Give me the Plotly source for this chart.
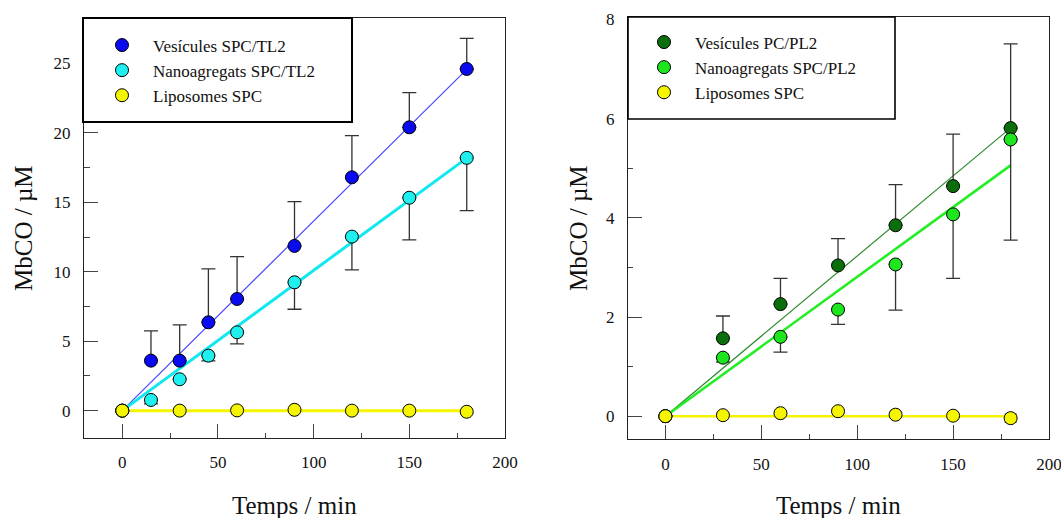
import plotly.graph_objects as go

# ---------------- data (left panel) ----------------
t_left = [0, 15, 30, 45, 60, 90, 120, 150, 180]
ves_tl2 = [0, 3.6, 3.6, 6.36, 8.04, 11.86, 16.8, 20.4, 24.6]
ves_tl2_err_up = [0, 2.14, 2.57, 3.84, 3.05, 3.19, 3.0, 2.5, 2.2]
nano_tl2 = [0, 0.77, 2.26, 3.96, 5.64, 9.24, 12.53, 15.33, 18.2]
nano_tl2_err_down = [0, 0.29, 0.0, 0.38, 0.84, 1.94, 2.4, 3.04, 3.8]
t_lipo = [0, 30, 60, 90, 120, 150, 180]
lipo_left = [0, 0.0, 0.02, 0.06, 0.0, 0.0, -0.08]
lipo_left_err = [0, 0.05, 0.1, 0.05, 0.1, 0.1, 0.12]
fit_t = [0, 180]
slope_ves_tl2 = 0.1365
slope_nano_tl2 = 0.101
slope_lipo = 0.0

# ---------------- data (right panel) ----------------
t_right = [0, 30, 60, 90, 120, 150, 180]
ves_pl2 = [0, 1.57, 2.26, 3.04, 3.85, 4.64, 5.81]
ves_pl2_err_up = [0, 0.45, 0.52, 0.54, 0.82, 1.05, 1.7]
nano_pl2 = [0, 1.18, 1.60, 2.15, 3.06, 4.07, 5.58]
nano_pl2_err_down = [0, 0.09, 0.31, 0.30, 0.92, 1.29, 2.03]
lipo_right = [0, 0.02, 0.06, 0.10, 0.03, 0.01, -0.04]
lipo_right_err = [0, 0.03, 0.05, 0.03, 0.05, 0.03, 0.08]
slope_ves_pl2 = 0.0323
slope_nano_pl2 = 0.0281

x_ticks = [0, 50, 100, 150, 200]
y_ticks_left = [0, 5, 10, 15, 20, 25]
y_ticks_right = [0, 2, 4, 6, 8]

FONT = "Liberation Serif, Times New Roman, serif"
W, H = 1061, 518

C_BLUE = "#0a0af0"
C_CYAN = "#1ef0f0"
C_YELLOW = "#f5f500"
C_DGREEN = "#0a6e0a"
C_LIME = "#1ee61e"

fig = go.Figure()


def fit_line(slope, color, width, xa, ya):
    fig.add_trace(go.Scatter(
        x=fit_t, y=[slope * t for t in fit_t], mode="lines",
        line=dict(color=color, width=width), showlegend=False,
        hoverinfo="skip", xaxis=xa, yaxis=ya))


def pts(x, y, name, color, xa, ya, legend, up=None, down=None, sym=None):
    if sym is not None:
        err = dict(type="data", array=sym, symmetric=True, color="#333333",
                   thickness=1.3, width=6)
    else:
        err = dict(type="data", array=up if up is not None else [0] * len(x),
                   arrayminus=down if down is not None else [0] * len(x),
                   symmetric=False, color="#333333", thickness=1.3, width=7)
    fig.add_trace(go.Scatter(
        x=x, y=y, mode="markers", name=name,
        marker=dict(color=color, size=13, line=dict(color="black", width=1)),
        error_y=err, xaxis=xa, yaxis=ya, legend=legend))


# left panel
fit_line(slope_ves_tl2, "#4848ff", 1.2, "x", "y")
fit_line(slope_nano_tl2, "#10e8f0", 3, "x", "y")
fit_line(slope_lipo, C_YELLOW, 3, "x", "y")
pts(t_left, ves_tl2, "Vesícules SPC/TL2", C_BLUE, "x", "y", "legend", up=ves_tl2_err_up)
pts(t_left, nano_tl2, "Nanoagregats SPC/TL2", C_CYAN, "x", "y", "legend", down=nano_tl2_err_down)
pts(t_lipo, lipo_left, "Liposomes SPC", C_YELLOW, "x", "y", "legend", sym=lipo_left_err)

# right panel
fit_line(slope_ves_pl2, "#2e8b2e", 1.2, "x2", "y2")
fit_line(slope_nano_pl2, "#22ee22", 2.6, "x2", "y2")
fit_line(slope_lipo, C_YELLOW, 2.5, "x2", "y2")
pts(t_right, ves_pl2, "Vesícules PC/PL2", C_DGREEN, "x2", "y2", "legend2", up=ves_pl2_err_up)
pts(t_right, nano_pl2, "Nanoagregats SPC/PL2", C_LIME, "x2", "y2", "legend2", down=nano_pl2_err_down)
pts(t_lipo, lipo_right, "Liposomes SPC", C_YELLOW, "x2", "y2", "legend2", sym=lipo_right_err)


def px(v):
    return v / W


def py(v):
    return 1 - v / H


axis_common = dict(showline=True, mirror=True, linecolor="#222222", linewidth=1.2,
                   ticks="inside", tickcolor="#444444", tickwidth=1.4, ticklen=14,
                   showgrid=False, zeroline=False, automargin=False,
                   ticklabeloverflow="allow",
                   tickfont=dict(family=FONT, size=17, color="#111111"))

fig.update_layout(
    width=W, height=H, margin=dict(l=0, r=0, t=0, b=0, pad=0, autoexpand=False),
    paper_bgcolor="white", plot_bgcolor="white",
    font=dict(family=FONT, color="#111111"),
    showlegend=True,
    xaxis=dict(domain=[px(84), px(505)], range=[-20, 200], tickvals=x_ticks,
               anchor="y", ticklabelstandoff=8,
               minor=dict(dtick=25, ticklen=5, ticks="inside", tickcolor="#444444"),
               **axis_common),
    yaxis=dict(domain=[py(438), py(18)], range=[-1.97, 28.27], tickvals=y_ticks_left,
               anchor="x", ticklabelstandoff=9,
               minor=dict(dtick=2.5, ticklen=6, ticks="inside", tickcolor="#444444"),
               **axis_common),
    xaxis2=dict(domain=[px(628), px(1049)], range=[-19.5, 200], tickvals=x_ticks,
                anchor="y2", ticklabelstandoff=9,
                minor=dict(dtick=25, ticklen=5, ticks="inside", tickcolor="#444444"),
                **axis_common),
    yaxis2=dict(domain=[py(439), py(17)], range=[-0.46, 8.05], tickvals=y_ticks_right,
                anchor="x2", ticklabelstandoff=9,
                minor=dict(dtick=1, ticklen=5, ticks="inside", tickcolor="#444444"),
                **axis_common),
    legend=dict(x=px(91), y=py(27.5), xanchor="left", yanchor="top",
                bgcolor="rgba(0,0,0,0)", borderwidth=0, itemwidth=52,
                font=dict(family=FONT, size=17, color="#111111")),
    legend2=dict(x=px(633), y=py(24.5), xanchor="left", yanchor="top",
                 bgcolor="rgba(0,0,0,0)", borderwidth=0, itemwidth=52,
                 font=dict(family=FONT, size=17, color="#111111")),
    shapes=[
        dict(type="rect", xref="paper", yref="paper", x0=px(83), x1=px(352),
             y0=py(122), y1=py(18), line=dict(color="black", width=2),
             fillcolor="white", layer="above"),
        dict(type="rect", xref="paper", yref="paper", x0=px(628), x1=px(895),
             y0=py(119), y1=py(17), line=dict(color="black", width=1.6),
             fillcolor="white", layer="above"),
    ],
    annotations=[
        dict(text="Temps / min", xref="paper", yref="paper", x=px(294.5), y=py(505),
             showarrow=False, font=dict(family=FONT, size=25, color="#111111"),
             xanchor="center", yanchor="middle"),
        dict(text="Temps / min", xref="paper", yref="paper", x=px(838), y=py(505),
             showarrow=False, font=dict(family=FONT, size=25, color="#111111"),
             xanchor="center", yanchor="middle"),
        dict(text="MbCO / µM", xref="paper", yref="paper", x=px(23), y=py(228),
             showarrow=False, textangle=-90,
             font=dict(family=FONT, size=25, color="#111111"),
             xanchor="center", yanchor="middle"),
        dict(text="MbCO / µM", xref="paper", yref="paper", x=px(578), y=py(228),
             showarrow=False, textangle=-90,
             font=dict(family=FONT, size=25, color="#111111"),
             xanchor="center", yanchor="middle"),
    ],
)

fig.write_html("out.html")
